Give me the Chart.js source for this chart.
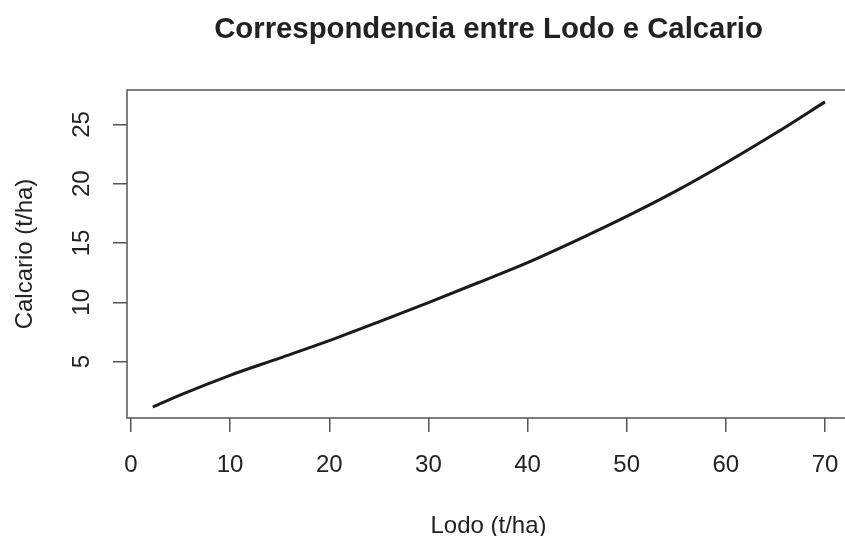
<!DOCTYPE html>
<html>
<head>
<meta charset="utf-8">
<script src="https://cdn.jsdelivr.net/npm/chart.js@4/dist/chart.umd.min.js"></script>
<style>
  html, body { margin: 0; padding: 0; background: #fff; overflow: hidden; }
  #wrap { width: 845px; height: 536px; }
</style>
</head>
<body>
<div id="wrap"><canvas id="c" width="845" height="536"></canvas></div>
<script>
// Lodo (t/ha) vs. corresponding Calcario (t/ha)
const lodo     = [2.2, 5, 10, 15, 20, 25, 30, 35, 40, 45, 50, 55, 60, 65, 70];
const calcario = [1.17, 2.2, 3.85, 5.3, 6.77, 8.35, 9.98, 11.65, 13.35, 15.25, 17.25, 19.4, 21.75, 24.25, 26.9];

const xTicks = [0, 10, 20, 30, 40, 50, 60, 70];
const yTicks = [5, 10, 15, 20, 25];

const chartTitle = 'Correspondencia entre Lodo e Calcario';
const xTitle = 'Lodo (t/ha)';
const yTitle = 'Calcario (t/ha)';

const FONT = '"Liberation Sans", Arial, Helvetica, sans-serif';
const INK = '#222';
const AXIS = '#555';

// Frame (open on the right, where the plot runs off the canvas), titles
// and rotated y tick labels in the style of a base R plot
const framePlugin = {
  id: 'frame',
  afterDraw(chart) {
    const { ctx, chartArea: a, scales } = chart;
    ctx.save();
    ctx.strokeStyle = AXIS;
    ctx.lineWidth = 1.5;
    ctx.beginPath();
    ctx.moveTo(chart.width, a.top);
    ctx.lineTo(a.left, a.top);
    ctx.lineTo(a.left, a.bottom);
    ctx.lineTo(chart.width, a.bottom);
    ctx.stroke();

    const cx = 488.5;
    ctx.fillStyle = INK;
    ctx.textAlign = 'center';
    ctx.textBaseline = 'alphabetic';

    ctx.font = 'bold 29.3px ' + FONT;
    ctx.fillText(chartTitle, cx, 38);

    ctx.font = '24px ' + FONT;
    ctx.fillText(xTitle, cx, 533);

    ctx.save();
    ctx.translate(32, (a.top + a.bottom) / 2);
    ctx.rotate(-Math.PI / 2);
    ctx.fillText(yTitle, 0, 0);
    ctx.restore();

    const ys = scales.y;
    ys.ticks.forEach(t => {
      const py = ys.getPixelForValue(t.value);
      ctx.save();
      ctx.translate(89, py);
      ctx.rotate(-Math.PI / 2);
      ctx.fillText(String(t.value), 0, 0);
      ctx.restore();
    });
    ctx.restore();
  }
};

new Chart(document.getElementById('c'), {
  type: 'line',
  data: {
    datasets: [{
      data: lodo.map((x, i) => ({ x, y: calcario[i] })),
      borderColor: '#1a1a1a',
      borderWidth: 3,
      pointRadius: 0,
      fill: false,
      cubicInterpolationMode: 'monotone'
    }]
  },
  options: {
    responsive: false,
    devicePixelRatio: 1,
    animation: false,
    layout: { padding: { top: 90, left: 0, right: 0, bottom: 0 } },
    plugins: { legend: { display: false }, tooltip: { enabled: false }, title: { display: false } },
    scales: {
      x: {
        type: 'linear',
        min: -0.4,
        max: 72.02,
        afterBuildTicks: s => { s.ticks = xTicks.map(v => ({ value: v })); },
        afterFit: s => { s.height = 118; s.paddingRight = 0; s.paddingLeft = 0; },
        border: { display: false },
        grid: { drawOnChartArea: false, drawTicks: true, tickLength: 14, color: AXIS, lineWidth: 1.5 },
        ticks: { color: INK, padding: 19, maxRotation: 0, font: { family: FONT, size: 24 } }
      },
      y: {
        type: 'linear',
        min: 0.25,
        max: 27.9,
        afterBuildTicks: s => { s.ticks = yTicks.map(v => ({ value: v })); },
        afterFit: s => { s.width = 127; },
        border: { display: false },
        grid: { drawOnChartArea: false, drawTicks: true, tickLength: 14, color: AXIS, lineWidth: 1.5 },
        ticks: { display: false }
      }
    }
  },
  plugins: [framePlugin]
});
</script>
</body>
</html>
